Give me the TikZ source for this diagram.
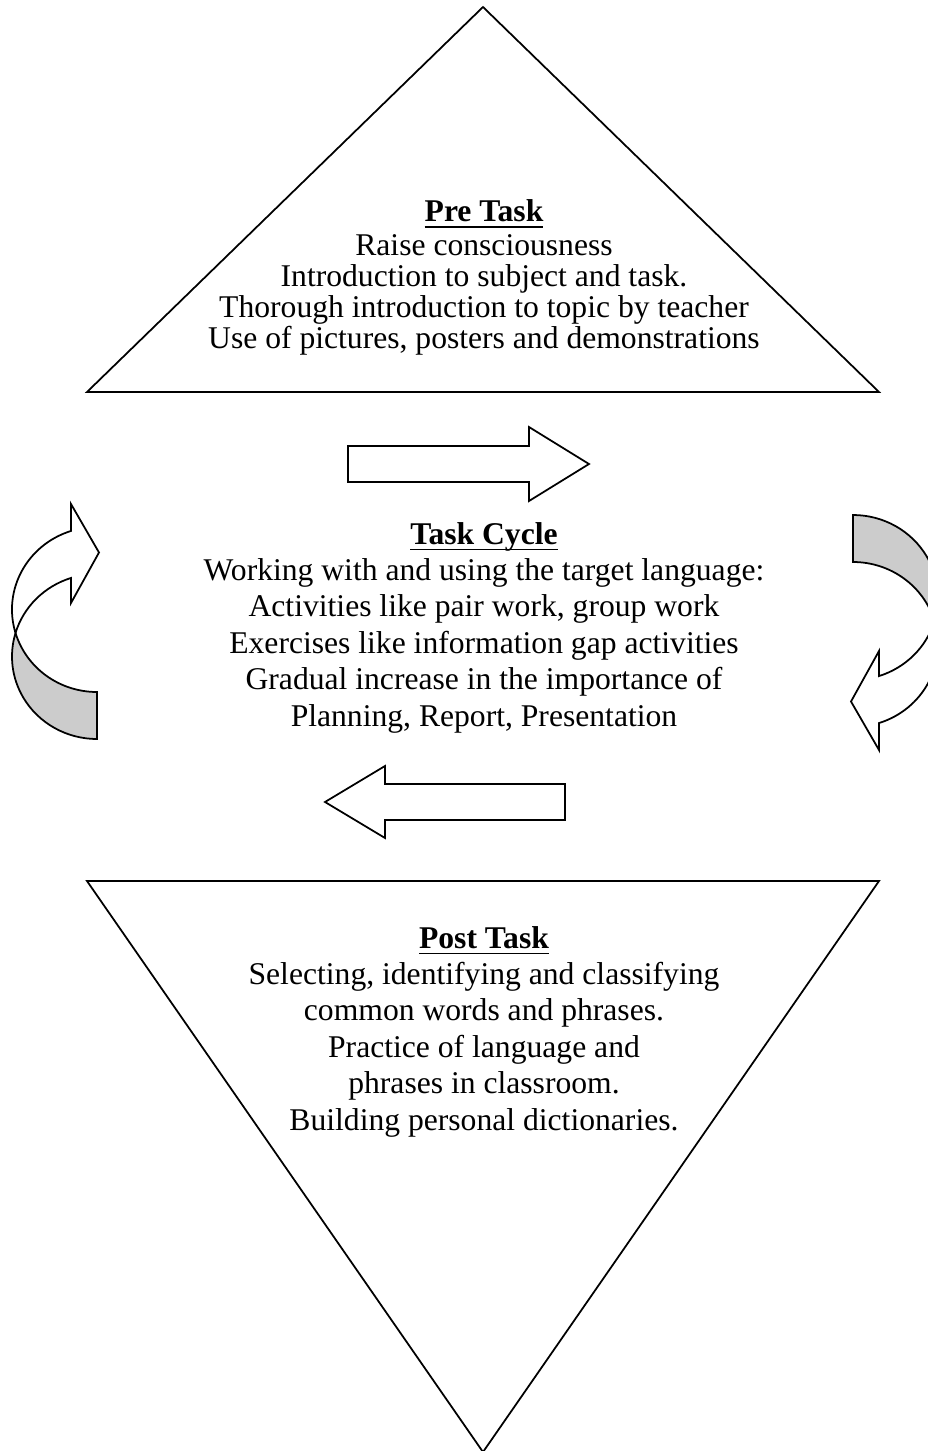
\documentclass[tikz,border=0pt]{standalone}
\usepackage{fontspec}
\setmainfont{Liberation Serif}
\usepackage{tikz}

% 粗下划线
\newcommand\thickul[1]{\setbox0\hbox{#1}\rlap{\rule[-3.6pt]{\wd0}{1.1pt}}\box0}

\tikzset{
	frontface/.style={draw, line width=1pt, fill=white},
	backface/.style={draw, line width=1pt, fill=gray!40},
	txt/.style={align=center, inner sep=0pt, font=\fontsize{18}{20.7}\selectfont},
	% 弯曲箭头: 原点为上方椭圆的中心
	bentarrow/.pic={
		% 背面 (灰色)
		\path[backface] (-81.45, 23.5)
			arc[start angle=163.45, end angle=90, x radius=85, y radius=82.5]
			-- (0, 129.5)
			arc[start angle=90, end angle=196.55, x radius=85, y radius=82.5]
			-- cycle;
		% 正面 (带箭头)
		\path[frontface] (-26, -78.55) -- (-26, -105.5) -- (2, -57)
			-- (-26, -6.5) -- (-26, -31.55)
			arc[start angle=252.2, end angle=196.55, x radius=85, y radius=82.5]
			arc[start angle=163.45, end angle=252.2, x radius=85, y radius=82.5]
			-- cycle;
	}
}

\begin{document}
\begin{tikzpicture}[x=0.02cm, y=-0.02cm, line join=miter]
	\useasboundingbox (0, 0) rectangle (928, 1451);

	% 上方三角形
	\coordinate (T1) at (483, 7);
	\coordinate (T2) at (879, 392);
	\coordinate (T3) at (87, 392);
	\draw[line width=1pt] (T1) -- (T2) -- (T3) -- cycle;

	% 下方三角形
	\coordinate (B1) at (87, 881);
	\coordinate (B2) at (879, 881);
	\coordinate (B3) at (483, 1452);
	\draw[line width=1pt] (B1) -- (B2) -- (B3) -- cycle;

	% 中间两个直箭头
	\draw[frontface] (348, 446) -- (529, 446) -- (529, 427) -- (589, 464)
		-- (529, 501) -- (529, 482) -- (348, 482) -- cycle;
	\draw[frontface] (565, 784) -- (385, 784) -- (385, 766) -- (325, 802)
		-- (385, 838) -- (385, 820) -- (565, 820) -- cycle;

	% 两侧的弯曲箭头
	\pic at (97, 609.5) {bentarrow};
	\pic[rotate=180] at (853, 644.5) {bentarrow};

	% 文字 (base 为最后一行的基线)
	\node[txt, font=\fontsize{18}{17.6}\selectfont, anchor=base] (pretask) at (484, 348)
		{\thickul{\textbf{Pre Task}}\\[1.7pt]
		Raise consciousness\\
		Introduction to subject and task.\\
		Thorough introduction to topic by teacher\\
		Use of pictures, posters and demonstrations};
	\node[txt, anchor=base] (taskcycle) at (484, 726)
		{\thickul{\textbf{Task Cycle}}\\
		Working with and using the target language:\\
		Activities like pair work, group work\\
		Exercises like information gap activities\\
		Gradual increase in the importance of\\
		Planning, Report, Presentation};
	\node[txt, anchor=base] (posttask) at (484, 1130)
		{\thickul{\textbf{Post Task}}\\
		Selecting, identifying and classifying\\
		common words and phrases.\\
		Practice of language and\\
		phrases in classroom.\\
		Building personal dictionaries.};
\end{tikzpicture}
\end{document}
